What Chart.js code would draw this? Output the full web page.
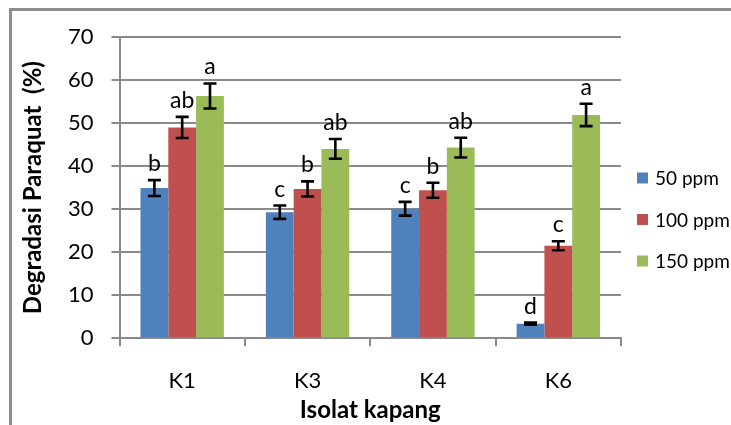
<!DOCTYPE html>
<html>
<head>
<meta charset="utf-8">
<script src="https://cdn.jsdelivr.net/npm/chart.js@4/dist/chart.umd.min.js"></script>
<style>
html,body{margin:0;padding:0;background:#fff;overflow:hidden;}
#wrap{position:relative;width:731px;height:425px;overflow:hidden;background:#fff;}
#frame{position:absolute;left:9px;top:8px;width:800px;height:500px;border-left:3px solid #8c8c8c;border-top:3px solid #8c8c8c;box-sizing:border-box;}
#c{position:absolute;left:0;top:0;}
</style>
</head>
<body>
<div id="wrap">
<div id="frame"></div>
<canvas id="c" width="731" height="425"></canvas>
</div>
<script>
const categories = ['K1', 'K3', 'K4', 'K6'];
const seriesNames = ['50 ppm', '100 ppm', '150 ppm'];
const values50 = [34.9, 29.3, 30.1, 3.4];
const values100 = [49.0, 34.7, 34.4, 21.5];
const values150 = [56.3, 44.0, 44.3, 51.9];
const err50 = [1.85, 1.55, 1.6, 0.25];
const err100 = [2.45, 1.75, 1.75, 1.05];
const err150 = [2.9, 2.3, 2.3, 2.6];
const letters50 = ['b', 'c', 'c', 'd'];
const letters100 = ['ab', 'b', 'b', 'c'];
const letters150 = ['a', 'ab', 'ab', 'a'];
const yTickValues = [0, 10, 20, 30, 40, 50, 60, 70];
const colors = ['#4F81BD', '#C0504D', '#9BBB59'];

const FONT = 'Lato, "Open Sans", sans-serif';
const GRID = '#8a8a8a';

const errorBarPlugin = {
  id: 'errorBars',
  afterDatasetsDraw(chart) {
    const ctx = chart.ctx;
    const y = chart.scales.y;
    chart.data.datasets.forEach((ds, di) => {
      const meta = chart.getDatasetMeta(di);
      meta.data.forEach((bar, i) => {
        const v = ds.data[i], e = ds.errors[i];
        const yTop = y.getPixelForValue(v + e);
        const yBot = y.getPixelForValue(v - e);
        const cap = 6.5;
        ctx.save();
        ctx.strokeStyle = '#000';
        ctx.lineWidth = 2.6;
        ctx.lineCap = 'butt';
        ctx.beginPath();
        ctx.moveTo(bar.x, yTop); ctx.lineTo(bar.x, yBot);
        ctx.moveTo(bar.x - cap, yTop); ctx.lineTo(bar.x + cap, yTop);
        ctx.moveTo(bar.x - cap, yBot); ctx.lineTo(bar.x + cap, yBot);
        ctx.stroke();
        ctx.fillStyle = '#000';
        ctx.font = '23px ' + FONT;
        ctx.textAlign = 'center';
        ctx.textBaseline = 'alphabetic';
        ctx.fillText(ds.letters[i], bar.x, yTop - 9);
        ctx.restore();
      });
    });
  }
};

const legendPlugin = {
  id: 'sideLegend',
  afterDraw(chart) {
    const ctx = chart.ctx;
    const area = chart.chartArea;
    const x0 = area.right + 16;
    const yStart = 178, step = 41.5, box = 11;
    chart.data.datasets.forEach((ds, i) => {
      const cy = yStart + i * step;
      ctx.save();
      ctx.fillStyle = ds.backgroundColor;
      ctx.fillRect(x0, cy - box / 2, box, box);
      ctx.fillStyle = '#000';
      ctx.font = '19px ' + FONT;
      ctx.textAlign = 'left';
      ctx.textBaseline = 'middle';
      ctx.fillText(ds.label, x0 + 18, cy + 1);
      ctx.restore();
    });
  }
};

const seriesValues = [values50, values100, values150];
const seriesErrors = [err50, err100, err150];
const seriesLetters = [letters50, letters100, letters150];

new Chart(document.getElementById('c'), {
  type: 'bar',
  data: {
    labels: categories,
    datasets: seriesNames.map((name, i) => ({
      label: name,
      data: seriesValues[i],
      errors: seriesErrors[i],
      letters: seriesLetters[i],
      backgroundColor: colors[i],
      borderWidth: 0,
      categoryPercentage: 0.665,
      barPercentage: 1.0
    }))
  },
  options: {
    responsive: false,
    animation: false,
    devicePixelRatio: 1,
    layout: { padding: { top: 37, right: 110, left: 0, bottom: 0 } },
    plugins: {
      legend: { display: false },
      tooltip: { enabled: false }
    },
    scales: {
      x: {
        grid: { display: true, drawOnChartArea: false, drawTicks: true, tickLength: 8, color: GRID, lineWidth: 2, offset: true },
        border: { display: true, color: GRID, width: 2 },
        ticks: { color: '#000', font: { family: FONT, size: 22 }, padding: 21 },
        title: { display: true, text: 'Isolat kapang', color: '#000', font: { family: FONT, size: 24, weight: 'bold' }, padding: { top: 0, bottom: 0.5 } },
        afterFit(s) { s.height = 86.7; }
      },
      y: {
        min: 0, max: 70,
        afterBuildTicks(s) { s.ticks = yTickValues.map(v => ({ value: v })); },
        grid: { color: GRID, lineWidth: 2, tickLength: 8 },
        border: { display: true, color: GRID, width: 2 },
        ticks: { color: '#000', font: { family: FONT, size: 22 }, padding: 18 },
        title: { display: true, text: 'Degradasi Paraquat  (%)', color: '#000', font: { family: FONT, size: 24, weight: 'bold' }, padding: { top: 18.5, bottom: 0 } },
        afterFit(s) { s.width = 119.5; }
      }
    }
  },
  plugins: [errorBarPlugin, legendPlugin]
});
</script>
</body>
</html>
